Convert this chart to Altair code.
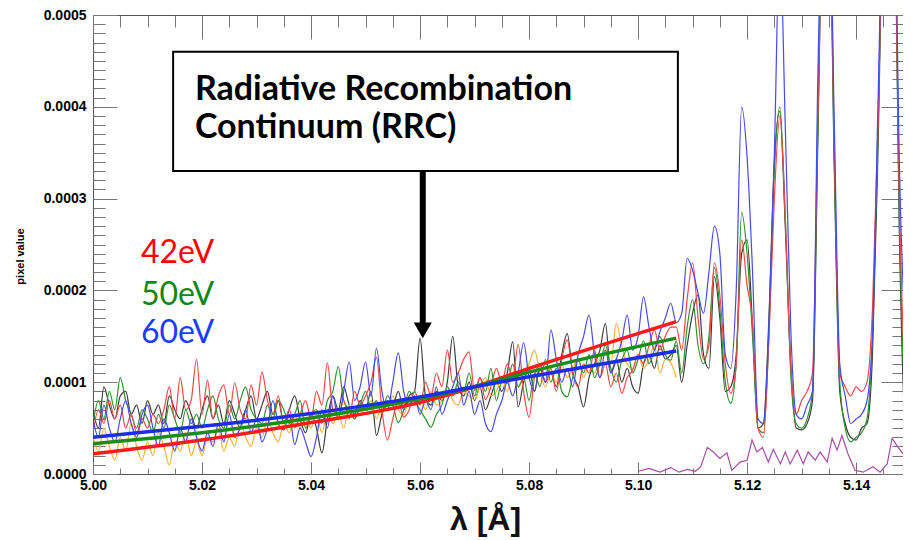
import altair as alt
import numpy as np
import pandas as pd

# wavelength grid of the measured traces (Angstrom), one sample per 0.001
lam = np.round(np.arange(5.000, 5.1505, 0.001), 3)

# pixel values, in units of 1e-5
red = [
    4.5, 7.0, 5.5, 8.0, 6.0, 7.5, 5.0, 6.5, 4.5, 6.0,
    5.0, 6.5, 5.5, 7.0, 9.5, 6.0, 10.5, 7.0, 8.0, 12.5,
    6.5, 10.2, 6.0, 8.5, 9.7, 6.5, 9.9, 7.0, 6.0, 9.7,
    7.5, 11.1, 8.0, 6.5, 8.5, 5.5, 7.0, 5.0, 6.5, 8.0,
    6.0, 9.0, 7.5, 12.1, 7.0, 6.5, 8.0, 6.0, 9.0, 7.5,
    8.5, 10.0, 12.7, 7.0, 3.7, 6.0, 8.0, 6.2, 7.0, 9.0,
    7.5, 10.0, 8.5, 11.0, 9.5, 13.5, 10.0, 11.0, 12.5, 13.3,
    9.1, 10.5, 8.1, 9.5, 11.5, 10.0, 12.0, 10.5, 14.1, 9.0,
    6.2, 10.5, 12.0, 10.0, 11.5, 9.0, 12.5, 14.6, 11.0, 9.5,
    12.0, 11.0, 13.5, 10.5, 12.0, 9.5, 11.0, 8.8, 10.5, 11.3,
    13.0, 12.0, 14.0, 15.7, 13.5, 15.0, 16.0,
    16.0, 13.5, 19.0, 23.0, 17.0, 12.5, 14.0, 23.0, 19.5, 12.0,
    8.8, 12.0, 25.5, 20.5, 16.5, 5.0, 4.0, 15.0, 30.0, 39.0,
    28.0, 12.0, 6.5, 8.0, 9.0, 11.0, 40.0, 65.0, 65.0, 36.0,
    11.0, 9.5, 8.5, 9.5, 9.0, 10.0, 18.0, 38.0, 62.0, 66.0,
    62.0, 28.0, 11.5, 8.8,
]
green = [
    5.5, 8.0, 6.0, 9.0, 7.0, 10.5, 8.0, 6.5, 5.0, 7.0,
    6.0, 4.5, 6.5, 5.0, 7.5, 6.0, 4.5, 7.0, 5.5, 6.5,
    5.0, 7.0, 8.5, 6.0, 5.0, 7.5, 6.0, 8.0, 9.5, 7.0,
    6.0, 5.5, 7.5, 6.0, 8.0, 7.0, 5.5, 6.5, 8.0, 5.0,
    6.5, 7.0, 5.5, 8.0, 9.0, 11.7, 8.0, 7.0, 6.0, 7.5,
    9.0, 7.0, 8.0, 6.5, 8.5, 7.5, 5.6, 7.0, 9.0, 8.0,
    7.0, 6.0, 5.1, 6.5, 7.5, 9.5, 8.5, 10.0, 9.0, 11.0,
    8.5, 10.5, 9.0, 11.5, 8.0, 10.0, 9.9, 12.0, 9.5, 10.5,
    8.0, 11.0, 9.5, 12.5, 10.0, 11.5, 9.0, 8.4, 10.5, 12.5,
    11.0, 13.0, 10.5, 12.0, 14.0, 11.5, 10.0, 12.4, 13.5, 11.0,
    12.5, 14.5, 12.0, 13.5, 15.0, 13.0, 12.4,
    14.5, 11.0, 16.0, 19.0, 14.0, 12.0, 15.0, 22.5, 18.0, 10.0,
    7.7, 12.0, 28.5, 24.0, 15.0, 5.0, 4.5, 15.0, 33.0, 40.0,
    28.0, 11.0, 5.5, 5.0, 6.0, 9.0, 38.0, 65.0, 65.0, 34.0,
    10.0, 5.0, 3.5, 4.0, 4.5, 6.0, 15.0, 37.0, 62.0, 66.0,
    62.0, 26.0, 9.0, 8.0,
]
blue = [
    6.0, 4.0, 7.5, 5.0, 3.5, 6.0, 8.0, 5.5, 4.0, 6.5,
    7.5, 5.0, 3.0, 6.0, 4.5, 2.5, 5.0, 3.5, 6.0, 4.0,
    2.5, 4.5, 3.0, 5.5, 3.5, 6.5, 4.0, 5.0, 7.0, 4.5,
    6.0, 3.5, 5.0, 8.0, 5.5, 4.8, 6.5, 3.2, 5.0, 3.5,
    1.9, 4.0, 7.0, 5.0, 8.5, 6.0, 9.0, 12.2, 8.0, 9.5,
    12.2, 8.5, 13.7, 9.0, 7.0, 10.0, 13.2, 9.0, 7.5, 8.5,
    6.5, 8.0, 7.0, 9.5, 6.5, 8.0, 9.5, 11.0, 7.5, 9.0,
    6.5, 8.0, 5.5, 4.6, 6.5, 8.0, 10.0, 8.5, 11.0, 14.3,
    10.5, 9.0, 11.5, 10.0, 15.7, 12.5, 10.0, 11.5, 9.5, 13.0,
    15.0, 17.3, 13.0, 10.5, 13.5, 11.0, 12.5, 14.5, 17.3, 13.5,
    15.0, 19.3, 16.0, 13.5, 15.5, 17.0, 18.6,
    16.5, 17.5, 23.5, 22.2, 19.7, 17.5, 22.0, 27.0, 24.0, 13.0,
    11.5, 20.0, 40.0, 34.5, 22.0, 6.0, 5.5, 16.0, 35.0, 58.0,
    38.0, 16.0, 6.5, 6.0, 7.5, 9.0, 44.0, 66.0, 66.0, 38.0,
    12.0, 8.5, 5.5, 6.0, 6.5, 8.0, 15.0, 40.0, 64.0, 68.0,
    64.0, 32.0, 17.5, 16.5,
]
black = [
    7.0, 5.0, 9.5, 7.5, 6.0, 8.5, 9.0, 6.5, 7.5, 5.5,
    8.0, 6.5, 7.5, 5.5, 8.5, 7.0, 6.0, 8.0, 6.5, 5.0,
    7.0, 8.5, 6.0, 7.5, 5.5, 8.0, 6.5, 5.0, 7.0, 8.5,
    6.0, 7.5, 9.0, 6.5, 8.0, 5.5, 7.0, 8.5, 6.0, 4.5,
    6.5, 5.0, 2.3, 6.0, 8.5, 7.0, 9.5, 7.5, 6.5, 8.0,
    7.0, 9.0, 4.2, 6.5, 8.0, 7.5, 9.0, 7.0, 8.5, 9.0,
    14.8, 8.5, 7.5, 9.0, 8.0, 10.0, 15.0, 9.5, 8.5, 10.0,
    8.0, 9.5, 7.0, 8.5, 10.0, 9.0, 11.0, 14.4, 7.3, 10.0,
    11.5, 9.0, 12.0, 10.0, 11.0, 9.5, 13.0, 15.3, 11.0, 9.5,
    7.3, 10.5, 12.0, 13.5, 16.4, 11.0, 12.5, 10.0, 11.5, 9.5,
    8.8, 12.0, 13.0, 11.5, 14.0, 12.5, 13.0,
    14.0, 10.0, 14.0, 17.5, 19.5, 13.0, 11.5, 21.5, 17.0, 9.0,
    9.5, 13.0, 24.0, 25.5, 16.0, 5.0, 5.5, 17.0, 34.0, 39.5,
    27.0, 12.0, 5.0, 4.8, 5.5, 8.0, 37.0, 65.0, 65.0, 33.0,
    9.0, 5.5, 4.0, 3.7, 5.0, 5.5, 13.0, 35.0, 62.0, 66.0,
    62.0, 24.0, 6.0, 4.5,
]
# the orange trace stops at 5.107
orange = [
    4.0, 2.5, 5.0, 3.0, 1.5, 4.0, 2.5, 5.5, 3.0, 1.5,
    3.5, 2.0, 4.5, 3.0, 1.0, 3.5, 2.5, 4.5, 2.0, 3.5,
    2.0, 4.0, 3.5, 5.0, 2.5, 4.0, 3.0, 5.5, 4.0, 3.0,
    5.0, 4.0, 6.0, 4.5, 3.5, 5.5, 4.5, 6.5, 5.0, 6.0,
    5.0, 6.5, 4.5, 7.0, 5.5, 6.5, 5.0, 7.5, 6.0, 7.0,
    6.5, 8.0, 6.0, 7.5, 7.0, 8.5, 7.0, 6.5, 8.0, 7.5,
    8.5, 7.0, 9.0, 7.5, 8.0, 9.5, 8.0, 7.5, 9.0, 8.5,
    8.1, 9.5, 10.5, 8.5, 9.0, 10.5, 9.0, 11.0, 9.5, 10.5,
    12.0, 13.5, 11.0, 9.5, 11.0, 10.0, 12.0, 10.5, 11.5, 12.5,
    10.5, 12.0, 11.0, 12.5, 13.5, 12.0, 16.4, 14.0, 12.0, 11.5,
    13.0, 11.5, 12.5, 14.0, 11.0, 12.5, 12.1, 10.5,
]

# purple trace along the bottom of the line region
purple_lam = [
    5.1000, 5.1020, 5.1040, 5.1060, 5.1075, 5.1090, 5.1105, 5.1115, 5.1127, 5.1138,
    5.1150, 5.1163, 5.1172, 5.1187, 5.1200, 5.1209, 5.1218, 5.1228, 5.1239, 5.1248,
    5.1261, 5.1270, 5.1279, 5.1292, 5.1303, 5.1312, 5.1325, 5.1334, 5.1347, 5.1356,
    5.1365, 5.1374, 5.1385, 5.1398, 5.1413, 5.1431, 5.1444, 5.1457, 5.1466, 5.1477,
    5.1490, 5.1500,
]
purple = [
    0.3, 0.6, 0.2, 0.7, 0.2, 0.5, 0.3, 0.8, 2.9, 2.4,
    1.7, 2.3, 0.4, 1.3, 1.5, 3.7, 2.4, 2.9, 1.3, 2.7,
    1.1, 2.4, 1.1, 2.6, 1.1, 2.4, 1.5, 2.4, 1.3, 3.9,
    2.6, 4.2, 2.2, 0.4, 0.2, 0.8, 0.2, 1.1, 3.9, 2.9,
    1.9, 1.5,
]

# RRC fits
fit_lam = [5.000, 5.020, 5.040, 5.060, 5.070, 5.080, 5.107]
fit_red = [2.2, 3.7, 5.6, 7.8, 9.5, 11.5, 16.6]
fit_green = [3.3, 4.5, 6.1, 8.2, 9.5, 11.1, 14.8]
fit_blue = [4.0, 5.2, 6.6, 8.4, 9.5, 10.6, 13.4]

x_major = [5.00, 5.02, 5.04, 5.06, 5.08, 5.10, 5.12, 5.14]
y_major = [0.0, 0.0001, 0.0002, 0.0003, 0.0004, 0.0005]
x_minor = [round(5.0 + 0.005 * k, 3) for k in range(30)]
y_minor = [round(0.00001 * k, 5) for k in range(51)]

legend_labels = ["42eV", "50eV", "60eV"]
legend_colors = ["#ff0000", "#118811", "#1a3cff"]
legend_y = [0.0002298, 0.0001841, 0.0001427]
box_lines = ["Radiative Recombination", "Continuum (RRC)"]
box_line_y = [0.0004074, 0.000366]

XS = alt.Scale(domain=[5.0, 5.1486], nice=False, zero=False)
YS = alt.Scale(domain=[0.0, 0.0005], nice=False, zero=False)
LABEL_FONT = "Liberation Sans"


def axis(orient, values, size, **kw):
    # ticks point into the plot, as in the original figure
    return alt.Axis(orient=orient, values=values, tickSize={"expr": str(-size)},
                    tickColor="#777", tickWidth=1, grid=False, domain=False, **kw)


x_axes = {
    "bottom": axis("bottom", x_major, 12, format=".2f", labelFlush=False,
                   labelFont=LABEL_FONT, labelFontSize=14, labelFontWeight="bold",
                   labelColor="black", labelPadding=16,
                   title="λ [Å]", titleFont=LABEL_FONT, titleFontSize=32,
                   titleFontWeight="bold", titleColor="#111", titleX=392, titleY=55,
                   titleBaseline="alphabetic"),
    "bottom_minor": axis("bottom", x_minor, 6, labels=False, title=None),
    "top": axis("top", x_major, 24, labels=False, title=None),
    "top_minor": axis("top", x_minor, 12, labels=False, title=None),
}
y_axes = {
    "left": axis("left", y_major, 24, format=".4f", labelFlush=False,
                 labelFont=LABEL_FONT, labelFontSize=14, labelFontWeight="bold",
                 labelColor="black", labelPadding=31,
                 title="pixel value", titleFont=LABEL_FONT, titleFontSize=11,
                 titleFontWeight="bold", titleColor="black", titleX=-73, titleY=241,
                 titleAngle=270, titleBaseline="middle"),
    "left_minor": axis("left", y_minor, 12, labels=False, title=None),
    "right": axis("right", y_major, 22, labels=False, title=None),
    "right_minor": axis("right", y_minor, 11, labels=False, title=None),
}


def trace(xs, vals, color, width=1.2, xa=None, ya=None, interp="monotone"):
    df = pd.DataFrame({"lam": xs, "val": np.array(vals) * 1e-5})
    return alt.Chart(df).mark_line(color=color, strokeWidth=width, clip=True,
                                   interpolate=interp).encode(
        x=alt.X("lam:Q", scale=XS, axis=xa),
        y=alt.Y("val:Q", scale=YS, axis=ya),
    )


layers = [
    trace(lam, black, "#3c3c3c", xa=x_axes["bottom"], ya=y_axes["left"]),
    trace(lam[:len(orange)], orange, "#f6b23a", xa=x_axes["bottom_minor"], ya=y_axes["left_minor"]),
    trace(lam, green, "#2f912f", xa=x_axes["top"], ya=y_axes["right"]),
    trace(lam, red, "#f04848", xa=x_axes["top_minor"], ya=y_axes["right_minor"]),
    trace(lam, blue, "#4848f2"),
    trace(purple_lam, purple, "#a84ca8", interp="linear"),
    trace(fit_lam, fit_red, "#ff1a1a", 3.5),
    trace(fit_lam, fit_green, "#1a8c1a", 3.5),
    trace(fit_lam, fit_blue, "#1a2ee6", 3.5),
]

# annotation box with arrow
box = alt.Chart(pd.DataFrame({"x": [5.0147], "x2": [5.1073],
                              "y": [0.00046], "y2": [0.00033]})).mark_rect(
    fill="white", stroke="black", strokeWidth=2
).encode(
    x=alt.X("x:Q", scale=XS, axis=None), x2="x2",
    y=alt.Y("y:Q", scale=YS, axis=None), y2="y2",
)
box_text = alt.Chart(pd.DataFrame({"x": [5.0187] * 2, "y": box_line_y, "t": box_lines})).mark_text(
    align="left", baseline="alphabetic", font="Lato", fontSize=34, fontWeight="bold", color="black"
).encode(
    x=alt.X("x:Q", scale=XS, axis=None),
    y=alt.Y("y:Q", scale=YS, axis=None),
    text="t:N",
)
arrow_df = pd.DataFrame({"x": [5.0605], "y": [0.00033], "y2": [0.000163], "tip": [0.0001565]})
shaft = alt.Chart(arrow_df).mark_rule(color="black", strokeWidth=6).encode(
    x=alt.X("x:Q", scale=XS, axis=None),
    y=alt.Y("y:Q", scale=YS, axis=None), y2="y2",
)
head = alt.Chart(arrow_df).mark_point(shape="triangle-down", size=330, filled=True,
                                      color="black", opacity=1).encode(
    x=alt.X("x:Q", scale=XS, axis=None),
    y=alt.Y("tip:Q", scale=YS, axis=None),
)
legend = alt.Chart(pd.DataFrame({"x": [5.0088] * 3, "y": legend_y, "t": legend_labels,
                                 "c": legend_colors})).mark_text(
    align="left", baseline="alphabetic", font="Lato", fontSize=32
).encode(
    x=alt.X("x:Q", scale=XS, axis=None),
    y=alt.Y("y:Q", scale=YS, axis=None),
    text="t:N",
    color=alt.Color("c:N", scale=None),
)

chart = alt.layer(*layers, box, box_text, shaft, head, legend).resolve_axis(
    x="independent", y="independent"
).properties(
    width=810,
    height=459,
    autosize=alt.AutoSizeParams(type="none"),
    padding={"left": 85, "top": 7, "right": 0, "bottom": 64},
    background="white",
).configure_view(
    stroke="#555", strokeWidth=1
)

chart.save("out.html", embed_options={"renderer": "svg", "actions": False})
